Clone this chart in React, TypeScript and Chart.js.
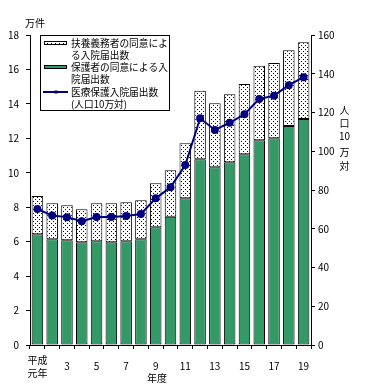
import React, { useEffect, useRef } from "react";
import { Chart, registerables } from "chart.js";

Chart.register(...registerables);

// 年度 (平成)
const years = ["1", "2", "3", "4", "5", "6", "7", "8", "9", "10", "11", "12", "13", "14", "15", "16", "17", "18", "19"];
const tickLabels: (string | string[])[] = [["平成", "元年"], "", "3", "", "5", "", "7", "", "9", "", "11", "", "13", "", "15", "", "17", "", "19"];

// 保護者の同意による入院届出数 (万件)
const protectorCounts = [6.43, 6.14, 6.08, 5.96, 6.02, 5.96, 6.02, 6.14, 6.83, 7.45, 8.52, 10.78, 10.32, 10.61, 11.07, 11.89, 12.0, 12.71, 13.12];
// 扶養義務者の同意による入院届出数 (万件)
const guardianCounts = [2.22, 2.09, 2.03, 1.92, 2.21, 2.27, 2.27, 2.26, 2.56, 2.69, 3.19, 3.99, 3.72, 3.95, 4.08, 4.33, 4.37, 4.41, 4.46];
// 医療保護入院届出数 (人口10万対)
const ratePer100k = [70.2, 66.8, 66.0, 63.9, 66.1, 66.1, 66.6, 67.6, 75.7, 81.4, 92.9, 117.0, 111.0, 114.7, 119.1, 127.0, 128.7, 134.1, 138.2];

const legendLabels = [
  ["扶養義務者の同意によ", "る入院届出数"],
  ["保護者の同意による入", "院届出数"],
  ["医療保護入院届出数", "(人口10万対)"],
];
const leftUnit = "万件";
const xTitle = "年度";
const rightTitle = ["人", "口", "10", "万", "対"];

const GREEN = "#339966";
const NAVY = "#000080";
const FONT = "'Noto Sans CJK JP', 'Noto Sans', sans-serif";

function makeDotPattern(ctx: CanvasRenderingContext2D): CanvasPattern | string {
  const c = document.createElement("canvas");
  c.width = 4;
  c.height = 4;
  const p = c.getContext("2d");
  if (!p) return "#fff";
  p.fillStyle = "#fff";
  p.fillRect(0, 0, 4, 4);
  p.fillStyle = "#000";
  p.fillRect(1, 1, 1, 1);
  p.fillRect(3, 3, 1, 1);
  return ctx.createPattern(c, "repeat") || "#fff";
}

export default function App() {
  const ref = useRef<HTMLCanvasElement>(null);

  useEffect(() => {
    const canvas = ref.current;
    if (!canvas) return;
    const ctx0 = canvas.getContext("2d")!;
    const dots = makeDotPattern(ctx0);

    const decor = {
      id: "decor",
      afterDraw(chart: any) {
        const ctx: CanvasRenderingContext2D = chart.ctx;
        ctx.save();
        ctx.fillStyle = "#000";
        ctx.font = `10px ${FONT}`;
        ctx.textBaseline = "middle";
        ctx.textAlign = "left";
        ctx.fillText(leftUnit, 25, 23);
        ctx.textAlign = "center";
        ctx.fillText(xTitle, 157, 378);
        const ry = [110, 123, 136.5, 152, 166];
        rightTitle.forEach((t, i) => ctx.fillText(t, 344.5, ry[i]));

        // legend
        ctx.lineWidth = 1;
        ctx.strokeStyle = "#000";
        ctx.fillStyle = "#fff";
        ctx.fillRect(40.5, 35.5, 129, 75);
        ctx.strokeRect(40.5, 35.5, 129, 75);

        ctx.fillStyle = dots as any;
        ctx.fillRect(44.5, 41.5, 22, 3);
        ctx.strokeRect(44.5, 41.5, 22, 3);
        ctx.fillStyle = GREEN;
        ctx.fillRect(44.5, 65.5, 22, 3);
        ctx.strokeRect(44.5, 65.5, 22, 3);
        ctx.strokeStyle = NAVY;
        ctx.lineWidth = 2;
        ctx.beginPath();
        ctx.moveTo(43, 92);
        ctx.lineTo(68, 92);
        ctx.stroke();
        ctx.fillStyle = NAVY;
        ctx.fillRect(54.5, 90.5, 3, 3);

        ctx.fillStyle = "#000";
        ctx.textAlign = "left";
        ctx.font = `9.7px ${FONT}`;
        const ly = [[43, 55], [67, 79.5], [92, 104]];
        legendLabels.forEach((lines, i) => {
          lines.forEach((t, j) => ctx.fillText(t, 71, ly[i][j]));
        });
        ctx.restore();
      },
    };

    const chart = new Chart(canvas, {
      type: "bar",
      data: {
        labels: years,
        datasets: [
          {
            type: "line",
            label: legendLabels[2].join(""),
            data: ratePer100k,
            yAxisID: "y2",
            borderColor: NAVY,
            backgroundColor: NAVY,
            borderWidth: 2,
            pointRadius: 3,
            pointBackgroundColor: NAVY,
            pointBorderColor: NAVY,
            tension: 0,
            order: 0,
          } as any,
          {
            type: "bar",
            label: legendLabels[1].join(""),
            data: protectorCounts,
            yAxisID: "y",
            backgroundColor: GREEN,
            borderColor: "#000",
            borderWidth: 1,
            borderSkipped: false,
            barPercentage: 0.78,
            categoryPercentage: 1,
            order: 1,
          },
          {
            type: "bar",
            label: legendLabels[0].join(""),
            data: guardianCounts,
            yAxisID: "y",
            backgroundColor: dots as any,
            borderColor: "#000",
            borderWidth: 1,
            borderSkipped: false,
            barPercentage: 0.78,
            categoryPercentage: 1,
            order: 1,
          },
        ],
      },
      options: {
        responsive: false,
        animation: false,
        devicePixelRatio: 1,
        layout: { padding: { top: 35, left: 0, right: 0, bottom: 0 } },
        plugins: { legend: { display: false }, tooltip: { enabled: false } },
        scales: {
          x: {
            stacked: true,
            offset: true,
            grid: { display: true, drawOnChartArea: false, drawTicks: true, tickLength: 4, color: "#000", offset: true },
            border: { display: true, color: "#000", width: 1 },
            ticks: {
              autoSkip: false,
              maxRotation: 0,
              minRotation: 0,
              color: "#000",
              padding: 11,
              crossAlign: "center",
              font: { family: FONT, size: 10, lineHeight: 1.3 },
              callback: (_v: any, i: number) => tickLabels[i],
            },
            afterFit: (s: any) => {
              s.height = 44;
            },
          },
          y: {
            stacked: true,
            position: "left",
            min: 0,
            max: 18,
            grid: { display: true, drawOnChartArea: false, drawTicks: true, tickLength: 4, color: "#000" },
            border: { display: true, color: "#000", width: 1 },
            ticks: { stepSize: 2, color: "#000", padding: 7, font: { family: FONT, size: 10 } },
            afterFit: (s: any) => {
              s.width = 30;
            },
          },
          y2: {
            position: "right",
            min: 0,
            max: 160,
            grid: { display: true, drawOnChartArea: false, drawTicks: true, tickLength: 4, color: "#000" },
            border: { display: true, color: "#000", width: 1 },
            ticks: { stepSize: 20, color: "#000", padding: 3, font: { family: FONT, size: 10 } },
            afterFit: (s: any) => {
              s.width = 56;
            },
          },
        },
      },
      plugins: [decor],
    });
    return () => chart.destroy();
  }, []);

  return (
    <div style={{ position: "fixed", left: 0, top: 0, width: 367, height: 389, background: "#fff" }}>
      <canvas ref={ref} width={367} height={389} style={{ display: "block" }} />
    </div>
  );
}
